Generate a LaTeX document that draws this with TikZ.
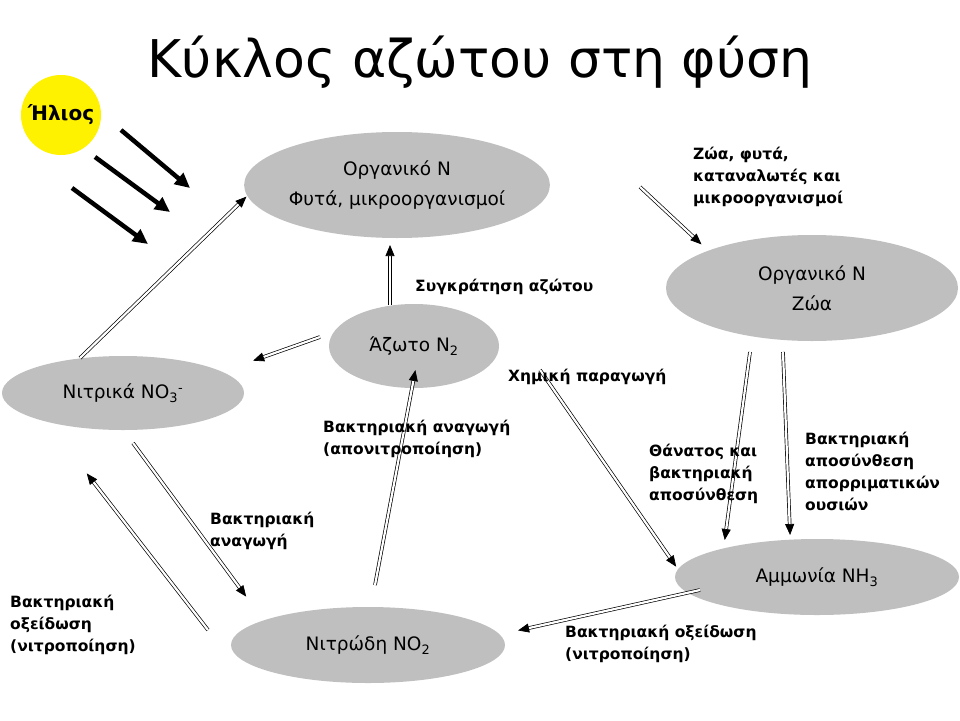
\documentclass[tikz,border=0pt]{standalone}
\usepackage{fontspec}
\setmainfont{DejaVu Sans}
\usetikzlibrary{arrows.meta,shapes.geometric}
\begin{document}
\begin{tikzpicture}[x=1pt,y=-1pt,
  ell/.style={ellipse,fill=black!25,inner sep=0pt,font=\fontsize{18.5}{30}\selectfont,align=center},
  dbl/.style={double,double distance=2.2pt,line width=0.7pt,-{Triangle[length=11pt,width=9pt]},shorten >=-2pt},
  sunray/.style={line width=4.5pt,-{Triangle[length=15pt,width=14pt]}},
  lbl/.style={font=\bfseries\fontsize{15.5}{22}\selectfont,align=left,anchor=north west,inner sep=0pt}]
\useasboundingbox (0,0) rectangle (960,720);
\node at (480,62) {\fontsize{52}{52}\selectfont Κύκλος αζώτου στη φύση};
\node[circle,fill=yellow,minimum size=80pt,inner sep=0pt,font=\bfseries\fontsize{20}{20}\selectfont] (sun) at (61,115) {Ήλιος};
\node[ell,minimum width=274pt,minimum height=106pt] (op) at (397,185) {Οργανικό Ν\\Φυτά, μικροοργανισμοί};
\node[ell,minimum width=292pt,minimum height=106pt] (oz) at (812,288) {Οργανικό Ν\\Ζώα};
\node[ell,minimum width=170pt,minimum height=84pt] (n2) at (414,346) {Άζωτο N\textsubscript{2}};
\node[ell,minimum width=242pt,minimum height=74pt] (no3) at (123,393) {Νιτρικά NO\textsubscript{3}\textsuperscript{-}};
\node[ell,minimum width=284pt,minimum height=76pt] (nh3) at (817,577) {Αμμωνία NH\textsubscript{3}};
\node[ell,minimum width=274pt,minimum height=76pt] (no2) at (368,645) {Νιτρώδη NO\textsubscript{2}};
\foreach \n/\a/\b/\c/\d in {1/121/130/190/188,2/95/157/170/212,3/72/188/148/244}{
  \coordinate (s\n) at (\a,\b); \coordinate (e\n) at (\c,\d);
  \draw[sunray] (s\n) -- (e\n);}
\foreach \n/\a/\b/\c/\d in {a/80/358/245/198, b/390/305/390/247, c/320/337/255/360, d/640/187/700/243, e/750/352/725/538, f/783/352/790/533, g/540/370/675/565, h/375/585/415/372, i/133/443/245/595, j/208/630/88/475, k/700/590/520/630}{
  \coordinate (p\n) at (\a,\b); \coordinate (q\n) at (\c,\d);
  \draw[dbl] (p\n) -- (q\n);}
\node[lbl] at (693,147) {Ζώα, φυτά,\\καταναλωτές και\\μικροοργανισμοί};
\node[lbl] at (415,279) {Συγκράτηση αζώτου};
\node[lbl] at (508,369) {Χημική παραγωγή};
\node[lbl] at (323,420) {Βακτηριακή αναγωγή\\(απονιτροποίηση)};
\node[lbl] at (649,444) {Θάνατος και\\βακτηριακή\\αποσύνθεση};
\node[lbl] at (805,432) {Βακτηριακή\\αποσύνθεση\\απορριματικών\\ουσιών};
\node[lbl] at (210,512) {Βακτηριακή\\αναγωγή};
\node[lbl] at (10,595) {Βακτηριακή\\οξείδωση\\(νιτροποίηση)};
\node[lbl] at (565,625) {Βακτηριακή οξείδωση\\(νιτροποίηση)};
\end{tikzpicture}
\end{document}
